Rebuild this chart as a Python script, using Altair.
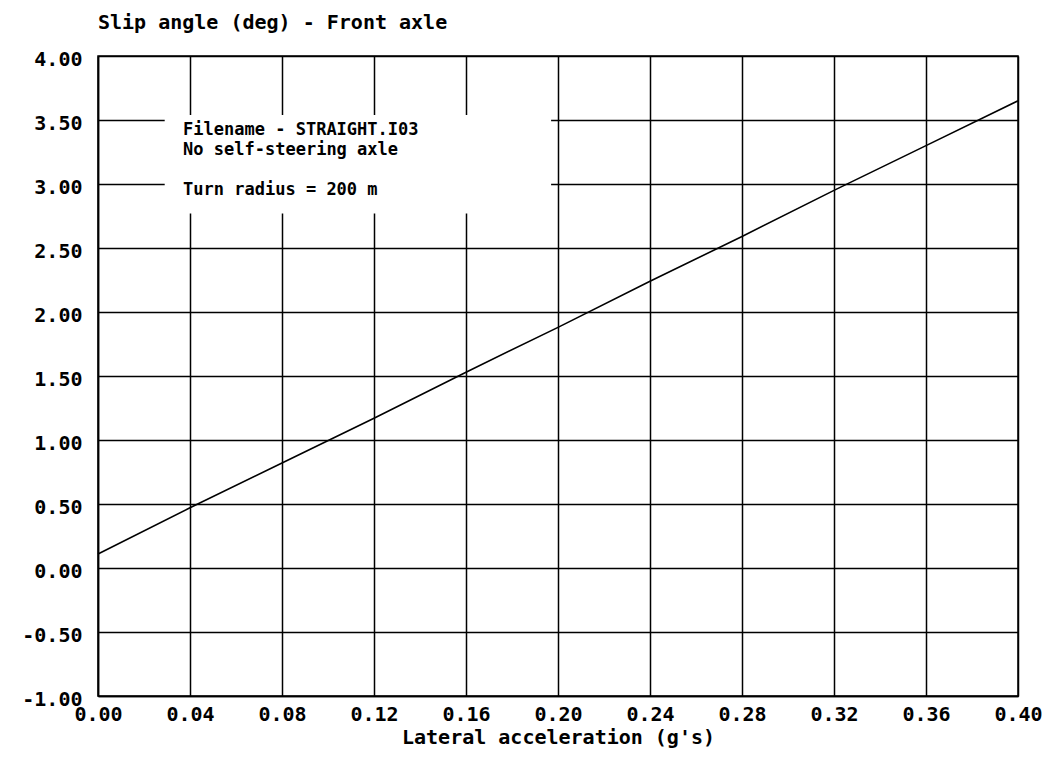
import altair as alt
import pandas as pd

# Data
lat_acc = [0.00, 0.04, 0.08, 0.12, 0.16, 0.20, 0.24, 0.28, 0.32, 0.36, 0.40]
slip = [0.11, 0.47, 0.82, 1.17, 1.53, 1.88, 2.24, 2.59, 2.95, 3.30, 3.65]

x_ticks = [0.00, 0.04, 0.08, 0.12, 0.16, 0.20, 0.24, 0.28, 0.32, 0.36, 0.40]
y_ticks = [-1.00, -0.50, 0.00, 0.50, 1.00, 1.50, 2.00, 2.50, 3.00, 3.50, 4.00]

note_lines = ["Filename - STRAIGHT.I03", "No self-steering axle", "Turn radius = 200 m"]
note_y = [3.425, 3.268, 2.953]
note_x = 0.037

FONT = "DejaVu Sans Mono"

df = pd.DataFrame({"x": lat_acc, "y": slip})
notes = pd.DataFrame({"x": [note_x] * len(note_lines), "y": note_y, "t": note_lines})
box = pd.DataFrame({"x": [0.029], "x2": [0.197], "y": [2.77], "y2": [3.54]})

lab = "replace(format(datum.value, '.2f'), '\u2212', '-')"

xs = alt.Scale(domain=[0, 0.4], nice=False, zero=False)
ys = alt.Scale(domain=[-1, 4], nice=False, zero=False)

xaxis = alt.Axis(values=x_ticks, labelExpr=lab, title="Lateral acceleration (g's)",
                 grid=True, ticks=False, labelPadding=8, titlePadding=3,
                 labelFont=FONT, labelFontSize=20, labelFontWeight="bold", labelColor="black",
                 titleFont=FONT, titleFontSize=20, titleFontWeight="bold", titleColor="black",
                 labelFlush=False, labelOverlap=False)
yaxis = alt.Axis(values=y_ticks, labelExpr=lab, title=None,
                 grid=True, ticks=False, labelPadding=16, labelOffset=3,
                 labelFont=FONT, labelFontSize=20, labelFontWeight="bold", labelColor="black",
                 labelFlush=False, labelOverlap=False)

rect = alt.Chart(box).mark_rect(color="white", opacity=1).encode(
    x=alt.X("x:Q", scale=xs, axis=xaxis), x2="x2:Q",
    y=alt.Y("y:Q", scale=ys, axis=yaxis), y2="y2:Q",
)

line = alt.Chart(df).mark_line(color="black", strokeWidth=1.6).encode(
    x=alt.X("x:Q", scale=xs), y=alt.Y("y:Q", scale=ys)
)

text = alt.Chart(notes).mark_text(align="left", baseline="middle", font=FONT,
                                   fontSize=17, fontWeight="bold", color="black").encode(
    x=alt.X("x:Q", scale=xs), y=alt.Y("y:Q", scale=ys), text="t:N"
)

chart = alt.layer(rect, line, text).properties(
    width=920, height=640,
    background="white",
    autosize=alt.AutoSizeParams(type="none"),
    padding={"left": 90, "top": 48, "right": 30, "bottom": 60},
    title=alt.TitleParams("Slip angle (deg) - Front axle", anchor="start", frame="group",
                          font=FONT, fontSize=20, fontWeight="bold", color="black",
                          offset=16),
).configure_axis(
    gridColor="black", gridWidth=1.5, gridOpacity=1,
    domainColor="black", domainWidth=1.5,
).configure_view(stroke="black", strokeWidth=1.5)

chart.save("out.html", embed_options={"renderer": "svg", "actions": False})
